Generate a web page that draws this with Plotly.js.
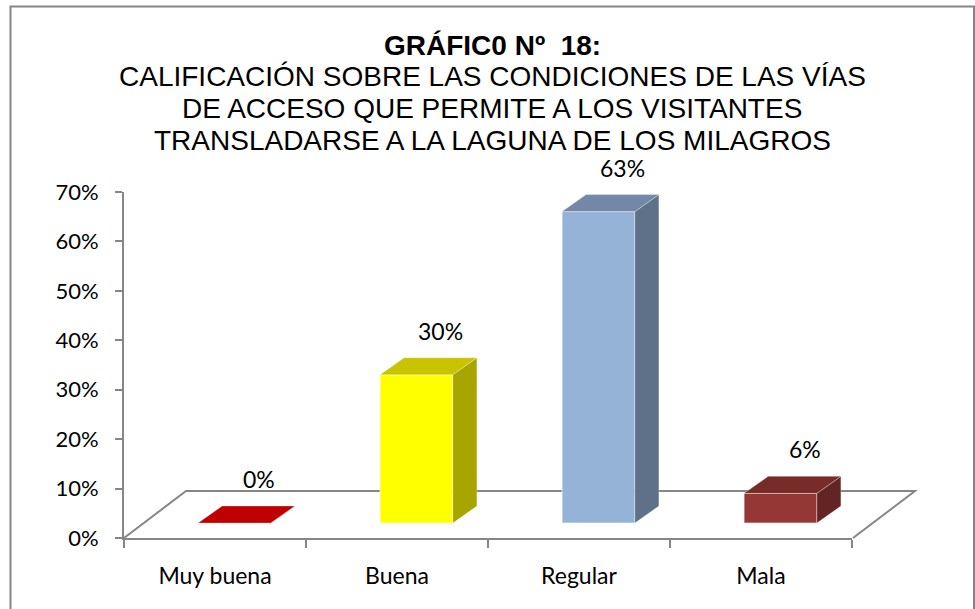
<!DOCTYPE html>
<html>
<head>
<meta charset="utf-8">
<script src="https://cdn.plot.ly/plotly-3.0.1.min.js"></script>
<style>
  html, body { margin: 0; padding: 0; background: #ffffff; }
  #chart { width: 975px; height: 609px; }
</style>
</head>
<body>
<div id="chart"></div>
<script>
// ---- data ----
const categories = ['Muy buena', 'Buena', 'Regular', 'Mala'];
const values = [0.00, 0.30, 0.63, 0.06];
const valueLabels = ['0%', '30%', '63%', '6%'];
const titleLines = [
  'GRÁFIC0 N\u00BA  18:',
  'CALIFICACIÓN SOBRE LAS CONDICIONES DE LAS VÍAS',
  'DE ACCESO QUE PERMITE A LOS VISITANTES',
  'TRANSLADARSE A LA LAGUNA DE LOS MILAGROS'
];
const frontColors = ['#C00000', '#FFFF00', '#95B3D7', '#953735'];
const topColors   = ['#C00000', '#C8C400', '#7388A6', '#772C2A'];
const sideColors  = ['#A00000', '#A8A500', '#5F7189', '#632523'];

// ---- 3D styling geometry (in axis units) ----
const BASE = 0.0303;   // bar floor height
const OFF = 0.107;     // front face shift from category centre
const HALF = 0.2;      // half bar width
const DX = 0.132;      // depth offset x
const DY = 0.0344;     // depth offset y
const LX = 0.24;       // label x shift

const traces = [];

// invisible trace to establish the category axis
traces.push({
  type: 'scatter', x: categories, y: values, mode: 'none',
  xaxis: 'x', yaxis: 'y', hoverinfo: 'skip', showlegend: false
});

// front faces
traces.push({
  type: 'bar',
  x: categories.map((c, i) => i + OFF),
  y: values,
  base: BASE,
  width: 2 * HALF,
  xaxis: 'x2', yaxis: 'y',
  marker: { color: frontColors, line: { color: 'rgba(255,255,255,0.6)', width: 1 } },
  hoverinfo: 'skip', showlegend: false
});

// side and top faces
values.forEach((v, i) => {
  const x0 = i + OFF - HALF, x1 = i + OFF + HALF;
  const yb = BASE, yt = BASE + v;
  if (v > 0) {
    traces.push({
      type: 'scatter', mode: 'lines', fill: 'toself',
      x: [x1, x1, x1 + DX, x1 + DX, x1],
      y: [yb, yt, yt + DY, yb + DY, yb],
      fillcolor: sideColors[i], line: { color: 'rgba(255,255,255,0.35)', width: 0.8 },
      xaxis: 'x2', yaxis: 'y', hoverinfo: 'skip', showlegend: false
    });
  }
  traces.push({
    type: 'scatter', mode: 'lines', fill: 'toself',
    x: [x0, x1, x1 + DX, x0 + DX, x0],
    y: [yt, yt, yt + DY, yt + DY, yt],
    fillcolor: topColors[i], line: { color: 'rgba(255,255,255,0.35)', width: 0.8 },
    xaxis: 'x2', yaxis: 'y', hoverinfo: 'skip', showlegend: false
  });
});

// ---- layout helpers (pixel -> paper) ----
const L = 124, R = 852, T = 192, B = 538;
const px = p => (p - L) / (R - L);
const py = p => (B - p) / (B - T);

const titleY = [45, 77, 108, 140];
const annotations = titleLines.map((t, k) => ({
  xref: 'paper', yref: 'paper', x: px(492), y: py(titleY[k]),
  xanchor: 'center', yanchor: 'middle', showarrow: false,
  text: k === 0 ? '<b>' + t + '</b>' : t,
  font: { family: 'Liberation Sans, Arial, sans-serif', size: 28, color: '#000000' }
}));

values.forEach((v, i) => {
  annotations.push({
    xref: 'x2', yref: 'y', x: i + LX, y: BASE + v + DY,
    xanchor: 'center', yanchor: 'bottom', yshift: 11, showarrow: false,
    text: valueLabels[i],
    font: { family: 'Lato, Carlito, sans-serif', size: 23, color: '#000000' }
  });
});

const gray = '#868686';
const layout = {
  width: 975, height: 609,
  margin: { l: L, r: 975 - R, t: T, b: 609 - B, pad: 0 },
  paper_bgcolor: '#ffffff', plot_bgcolor: 'rgba(0,0,0,0)',
  showlegend: false,
  xaxis: {
    type: 'category', categoryorder: 'array', categoryarray: categories,
    range: [-0.5, 3.5], tickson: 'boundaries',
    ticks: 'outside', ticklen: 8, tickwidth: 2, tickcolor: gray,
    showline: true, linecolor: gray, linewidth: 2,
    showgrid: false, zeroline: false, fixedrange: true,
    ticklabelstandoff: 16,
    tickfont: { family: 'Lato, Carlito, sans-serif', size: 23, color: '#000000' }
  },
  xaxis2: {
    overlaying: 'x', anchor: 'y', range: [-0.5, 3.5], visible: false, fixedrange: true
  },
  yaxis: {
    range: [0, 0.7], dtick: 0.1, tick0: 0, tickformat: '.0%',
    ticks: 'outside', ticklen: 7, tickwidth: 2, tickcolor: gray,
    showline: true, linecolor: gray, linewidth: 2,
    showgrid: false, zeroline: false, fixedrange: true,
    ticklabelstandoff: 12,
    tickfont: { family: 'Lato, Carlito, sans-serif', size: 22, color: '#000000' }
  },
  shapes: [
    { type: 'path', xref: 'paper', yref: 'paper', layer: 'below',
      path: 'M ' + px(124) + ',' + py(538) + ' L ' + px(186) + ',' + py(491) +
            ' L ' + px(915) + ',' + py(491) + ' L ' + px(853) + ',' + py(538),
      line: { color: gray, width: 2 } },
    { type: 'rect', xref: 'paper', yref: 'paper', layer: 'below',
      x0: px(10.5), x1: px(974), y0: py(625), y1: py(6.5),
      line: { color: gray, width: 2 } }
  ],
  annotations: annotations
};

Plotly.newPlot('chart', traces, layout, { displayModeBar: false, staticPlot: true });
</script>
</body>
</html>
